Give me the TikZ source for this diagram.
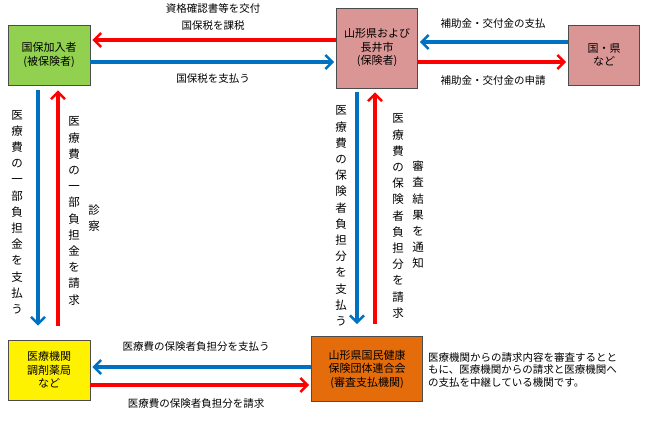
\documentclass[tikz,border=0pt]{standalone}
\usepackage{fontspec}
\setmainfont{Noto Sans CJK JP}
\usetikzlibrary{arrows.meta}

\definecolor{boxgreen}{RGB}{146,208,80}
\definecolor{boxpink}{RGB}{217,150,148}
\definecolor{boxorange}{RGB}{228,108,10}
\definecolor{arrblue}{RGB}{0,112,192}

\tikzset{
    party/.style={draw=black!70,thick,align=center,inner sep=0pt,
        font=\fontsize{11}{13.5}\selectfont},
    flow/.style={line width=3.5pt,-{Straight Barb[length=7pt,width=14pt,line width=2.5pt]}},
    redflow/.style={flow,red},
    blueflow/.style={flow,arrblue},
    note/.style={font=\fontsize{10.5}{12.5}\selectfont,inner sep=0pt},
    vnote/.style={note,align=center,font=\fontsize{11.5}{16.2}\selectfont}
}

\begin{document}
\begin{tikzpicture}[x=1pt,y=-1pt]
        \useasboundingbox (0,0) rectangle (652,429);

        % Parties
        \node [party,fill=boxgreen,minimum width=82pt,minimum height=60pt]
            (kanyu) at (49,55) {国保加入者\\(被保険者)};
        \node [party,fill=boxpink,minimum width=81pt,minimum height=80pt]
            (hoken) at (377,48) {山形県および\\長井市\\(保険者)};
        \node [party,fill=boxpink,minimum width=71pt,minimum height=60pt]
            (kuni) at (604,55) {国・県\\など};
        \node [party,fill=yellow,minimum width=82pt,minimum height=60pt]
            (iryo) at (49,370) {医療機関\\調剤薬局\\など};
        \node [party,fill=boxorange,minimum width=111pt,minimum height=65pt]
            (rengo) at (367,369) {山形県国民健康\\保険団体連合会\\(審査支払機関)};

        % Top flows
        \draw [redflow] ([yshift=8pt]hoken.west) -- ([xshift=2pt,yshift=15pt]kanyu.east);
        \draw [blueflow] ([yshift=-7pt]kanyu.east) -- ([xshift=-2pt,yshift=-14pt]hoken.west);
        \draw [blueflow] ([yshift=13pt]kuni.west) -- ([xshift=2pt,yshift=6pt]hoken.east);
        \draw [redflow] ([yshift=-14pt]hoken.east) -- ([xshift=-2pt,yshift=-7pt]kuni.west);

        % Vertical flows
        \draw [blueflow] ([xshift=-11pt,yshift=-5pt]kanyu.south) -- ([xshift=-11pt,yshift=14pt]iryo.north);
        \draw [redflow] ([xshift=9pt,yshift=14pt]iryo.north) -- ([xshift=9pt,yshift=-5pt]kanyu.south);
        \draw [blueflow] ([xshift=-20pt,yshift=-4pt]hoken.south) -- ([xshift=-10pt,yshift=12pt]rengo.north);
        \draw [redflow] ([xshift=8pt,yshift=12pt]rengo.north) -- ([xshift=-2pt,yshift=-4pt]hoken.south);

        % Bottom flows
        \draw [blueflow] ([yshift=2pt]rengo.west) -- ([xshift=2pt,yshift=3pt]iryo.east);
        \draw [redflow] ([yshift=-15pt]iryo.east) -- ([xshift=-2pt,yshift=-16pt]rengo.west);

        % Labels
        \node [note] (l1) at (213,9) {資格確認書等を交付};
        \node [note] (l2) at (213,26) {国保税を課税};
        \node [note] (l3) at (213,79) {国保税を支払う};
        \node [note] (l4) at (493,24) {補助金・交付金の支払};
        \node [note] (l5) at (493,81) {補助金・交付金の申請};
        \node [note] (l6) at (196,347) {医療費の保険者負担分を支払う};
        \node [note] (l7) at (196,404) {医療費の保険者負担分を請求};
        \node [vnote] (v1) at (17,212) {医\\療\\費\\の\\一\\部\\負\\担\\金\\を\\支\\払\\う};
        \node [vnote] (v2) at (74,211) {医\\療\\費\\の\\一\\部\\負\\担\\金\\を\\請\\求};
        \node [vnote] (v3) at (94,218) {診\\察};
        \node [vnote] (v4) at (341,216) {医\\療\\費\\の\\保\\険\\者\\負\\担\\分\\を\\支\\払\\う};
        \node [vnote] (v5) at (398,216) {医\\療\\費\\の\\保\\険\\者\\負\\担\\分\\を\\請\\求};
        \node [vnote] (v6) at (418,215) {審\\査\\結\\果\\を\\通\\知};
        \node [note,align=left,anchor=north west] (expl) at (428,352)
            {医療機関からの請求内容を審査するとと\\もに、医療機関からの請求と医療機関へ\\の支払を中継している機関です。};
\end{tikzpicture}
\end{document}
